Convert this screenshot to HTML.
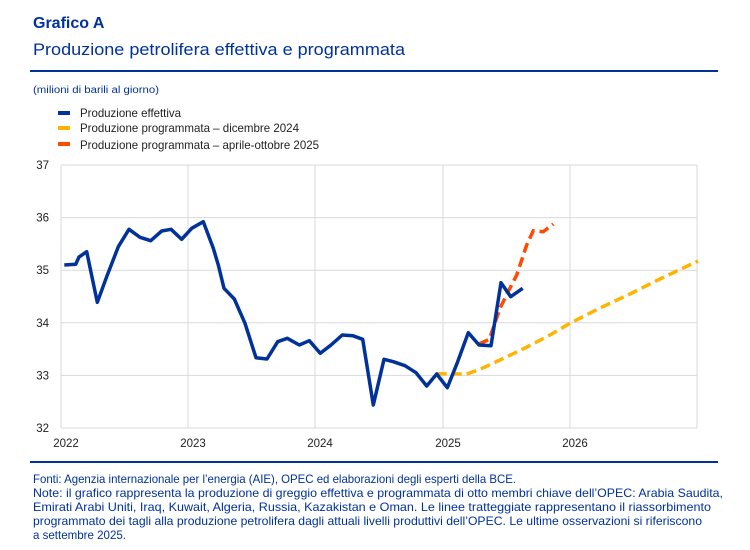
<!DOCTYPE html>
<html><head><meta charset="utf-8"><style>
html,body{margin:0;padding:0;background:#fff;}
svg{display:block;font-family:"Liberation Sans",sans-serif;}
</style></head><body>
<svg width="750" height="550" viewBox="0 0 750 550" xmlns="http://www.w3.org/2000/svg">
<text x="33" y="28" font-size="16" font-weight="bold" fill="#003299">Grafico A</text>
<text x="33" y="55" font-size="17" fill="#003299" textLength="372" lengthAdjust="spacingAndGlyphs">Produzione petrolifera effettiva e programmata</text>
<rect x="30" y="70" width="688" height="2" fill="#003299"/>
<text x="33" y="93" font-size="10" fill="#003299" textLength="126" lengthAdjust="spacingAndGlyphs">(milioni di barili al giorno)</text>
<rect x="58" y="111" width="12" height="4" fill="#003299"/>
<rect x="58" y="126" width="12" height="4" fill="#FFB400"/>
<rect x="58" y="142" width="12" height="4" fill="#FF4B00"/>
<g font-size="12" fill="#222">
<text x="80" y="117" textLength="101" lengthAdjust="spacingAndGlyphs">Produzione effettiva</text>
<text x="80" y="132" textLength="219" lengthAdjust="spacingAndGlyphs">Produzione programmata – dicembre 2024</text>
<text x="80" y="149" textLength="239" lengthAdjust="spacingAndGlyphs">Produzione programmata – aprile-ottobre 2025</text>
</g>
<g stroke="#d9d9d9" stroke-width="1" fill="none">
<line x1="61" y1="165" x2="697" y2="165"/>
<line x1="61" y1="217.6" x2="697" y2="217.6"/>
<line x1="61" y1="270.2" x2="697" y2="270.2"/>
<line x1="61" y1="322.8" x2="697" y2="322.8"/>
<line x1="61" y1="375.4" x2="697" y2="375.4"/>
<line x1="61" y1="428" x2="697" y2="428"/>
<line x1="61" y1="165" x2="61" y2="428"/>
<line x1="188" y1="165" x2="188" y2="428"/>
<line x1="315" y1="165" x2="315" y2="428"/>
<line x1="443" y1="165" x2="443" y2="428"/>
<line x1="570" y1="165" x2="570" y2="428"/>
<line x1="697" y1="165" x2="697" y2="428"/>
</g>
<g font-size="11.5" fill="#222" text-anchor="end">
<text x="49" y="169">37</text>
<text x="49" y="221.6">36</text>
<text x="49" y="274.2">35</text>
<text x="49" y="326.8">34</text>
<text x="49" y="379.4">33</text>
<text x="49" y="432">32</text>
</g>
<g font-size="11.5" fill="#222" text-anchor="middle">
<text x="66" y="447">2022</text>
<text x="193" y="447">2023</text>
<text x="320" y="447">2024</text>
<text x="448" y="447">2025</text>
<text x="575" y="447">2026</text>
</g>
<polyline fill="none" stroke="#FFB400" stroke-width="3.5" stroke-dasharray="10,5" points="436.7,373.8 466.7,374 480,369.3 500,360 525,348 550,335 570,323.3 600,308 630,294 660,279 698,261"/>
<polyline fill="none" stroke="#FF4B00" stroke-width="3.5" stroke-dasharray="10,5" points="479,344 489.3,339.3 500,308.3 508,292 516.7,275 526.7,245 533.3,230.7 543.3,231.7 553.3,224"/>
<polyline fill="none" stroke="#003299" stroke-width="3.5" stroke-linejoin="round" points="64.3,265 75.7,264.3 79,257 86.7,251.7 97.3,302.3 106.7,276.7 118.3,246.7 129,229.3 140,237.3 150.7,240.7 161.7,231 171,229.3 181.7,239.3 191.7,228.3 203.3,221.7 213.3,248.3 218.3,265 224,288.3 234.3,299 245,323.3 256,357.7 267,359 277.7,341.7 287.3,338.3 299.3,345 309.3,340.7 320.3,353.3 331,345 342.3,335 352.7,335.7 362.7,339.3 373.3,405 384,359.3 393.3,361.7 405,365.7 416,372.7 426.7,386 436.7,374 447.3,387.7 457.3,362.7 468.3,332.7 479,345 491,345.7 501,282.7 510.7,296.7 522.7,288.3"/>
<rect x="30" y="461" width="688" height="2" fill="#003299"/>
<g font-size="12" fill="#003299">
<text x="33" y="483" textLength="483" lengthAdjust="spacingAndGlyphs">Fonti: Agenzia internazionale per l’energia (AIE), OPEC ed elaborazioni degli esperti della BCE.</text>
<text x="33" y="497" textLength="690" lengthAdjust="spacingAndGlyphs">Note: il grafico rappresenta la produzione di greggio effettiva e programmata di otto membri chiave dell’OPEC: Arabia Saudita,</text>
<text x="33" y="511" textLength="678" lengthAdjust="spacingAndGlyphs">Emirati Arabi Uniti, Iraq, Kuwait, Algeria, Russia, Kazakistan e Oman. Le linee tratteggiate rappresentano il riassorbimento</text>
<text x="33" y="525" textLength="669" lengthAdjust="spacingAndGlyphs">programmato dei tagli alla produzione petrolifera dagli attuali livelli produttivi dell’OPEC. Le ultime osservazioni si riferiscono</text>
<text x="33" y="539" textLength="93" lengthAdjust="spacingAndGlyphs">a settembre 2025.</text>
</g>
</svg>
</body></html>
